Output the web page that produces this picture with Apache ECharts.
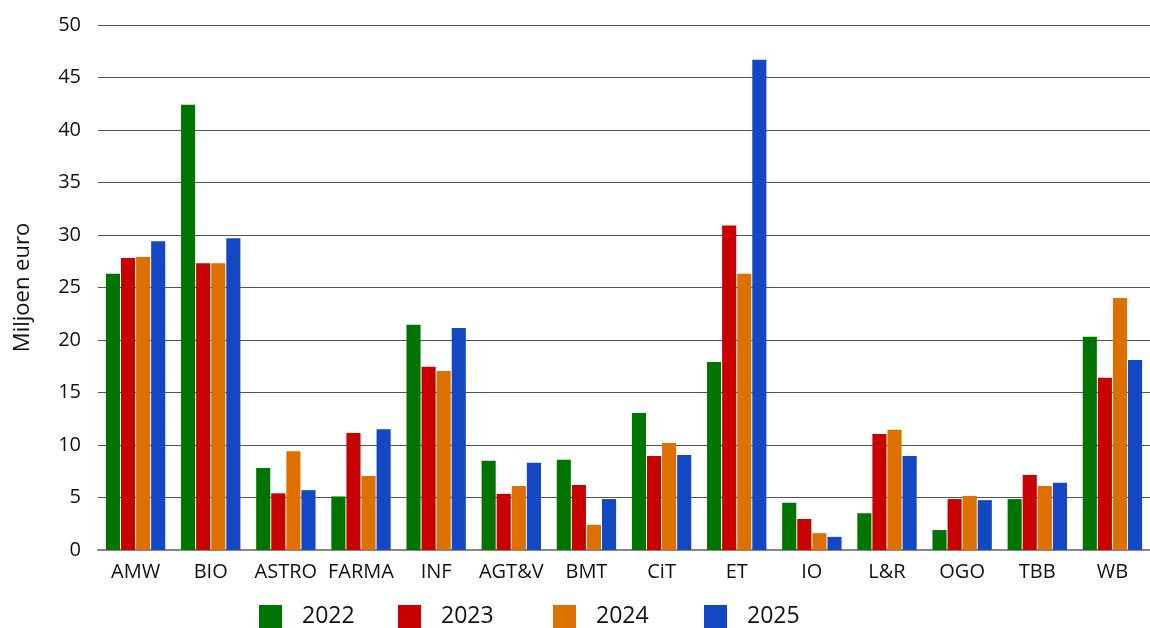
<!DOCTYPE html>
<html>
<head>
<meta charset="utf-8">
<script src="https://cdn.jsdelivr.net/npm/echarts@6/dist/echarts.min.js"></script>
<style>html,body{margin:0;padding:0;background:#fff}#c{width:1150px;height:628px}</style>
</head>
<body>
<div id="c"></div>
<script>
const categories = ['AMW','BIO','ASTRO','FARMA','INF','AGT&V','BMT','CiT','ET','IO','L&R','OGO','TBB','WB'];
const seriesNames = ['2022','2023','2024','2025'];
const v2022 = [26.3, 42.4, 7.8, 5.1, 21.45, 8.5, 8.6, 13.05, 17.9, 4.5, 3.5, 1.9, 4.85, 20.3];
const v2023 = [27.8, 27.3, 5.4, 11.15, 17.45, 5.35, 6.2, 8.95, 30.9, 2.95, 11.05, 4.85, 7.15, 16.4];
const v2024 = [27.9, 27.3, 9.4, 7.05, 17.05, 6.1, 2.4, 10.2, 26.3, 1.6, 11.45, 5.15, 6.1, 24.0];
const v2025 = [29.4, 29.7, 5.7, 11.5, 21.15, 8.3, 4.85, 9.05, 46.7, 1.25, 8.95, 4.75, 6.4, 18.1];
const yTicks = [0,5,10,15,20,25,30,35,40,45,50];
const colors = ['#007400','#C80000','#DC7000','#1447C3'];
const legendLeft = [259, 398, 553, 704];
const FONT = 'Open Sans';

const allValues = [v2022, v2023, v2024, v2025];
const chart = echarts.init(document.getElementById('c'));
chart.setOption({
  animation: false,
  textStyle: { fontFamily: FONT },
  grid: { left: 98, right: 0, top: 25, bottom: 78 },
  legend: seriesNames.map((n, i) => ({
    data: [n],
    left: legendLeft[i], top: 605,
    padding: 0,
    itemWidth: 23, itemHeight: 23,
    icon: 'rect',
    textStyle: { fontSize: 23, color: '#111', fontFamily: FONT, padding: [0,0,0,15] }
  })),
  xAxis: {
    type: 'category',
    data: categories,
    axisTick: { show: false },
    axisLine: { lineStyle: { color: '#888', width: 2 } },
    axisLabel: { fontSize: 20, color: '#111', margin: 12, interval: 0, fontFamily: FONT }
  },
  yAxis: {
    type: 'value',
    min: yTicks[0], max: yTicks[yTicks.length-1], interval: 5,
    name: 'Miljoen euro',
    nameLocation: 'middle',
    nameGap: 64,
    nameTextStyle: { fontSize: 22, color: '#111', fontFamily: FONT },
    axisLine: { show: false },
    axisTick: { show: false },
    axisLabel: { fontSize: 20, color: '#111', margin: 17, fontFamily: FONT },
    splitLine: { lineStyle: { color: '#555', width: 1 } }
  },
  series: seriesNames.map((n, i) => ({
    name: n,
    type: 'bar',
    data: allValues[i],
    barGap: '7%',
    barCategoryGap: '21%',
    itemStyle: { color: colors[i] }
  }))
});
</script>
</body>
</html>
